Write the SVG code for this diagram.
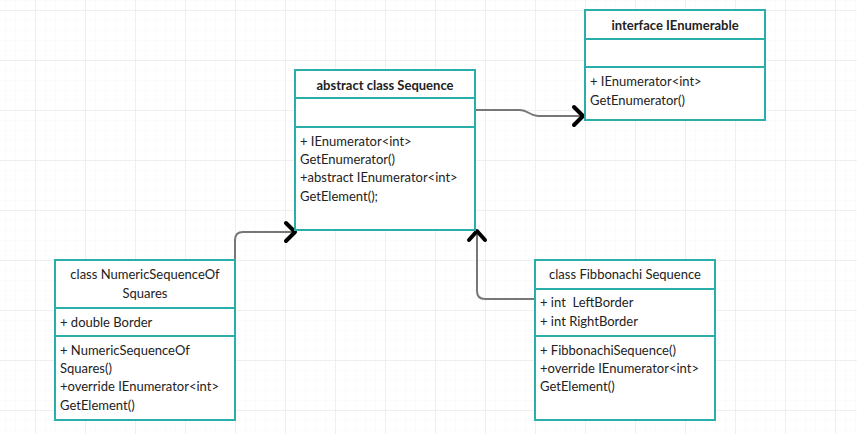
<svg xmlns="http://www.w3.org/2000/svg" width="857" height="434" viewBox="0 0 857 434">
<defs>
<pattern id="minor" width="10" height="10" patternUnits="userSpaceOnUse" x="5" y="0">
<path d="M0 0V10M0 0H10" stroke="#f7f7f7" stroke-width="1" fill="none"/>
</pattern>
<pattern id="major" width="50" height="50" patternUnits="userSpaceOnUse" x="35" y="10">
<path d="M0 0V50M0 0H50" stroke="#ececec" stroke-width="1.5" fill="none"/>
</pattern>
</defs>
<style>
.box{fill:#fff;stroke:#2aaeab;stroke-width:2}
.div{stroke:#2aaeab;stroke-width:2}
text{font-family:Lato,"Liberation Sans",sans-serif;font-size:13px;fill:#222}
.h{font-weight:bold;text-anchor:middle}
.c{text-anchor:middle}
.conn{fill:none;stroke:#777;stroke-width:2}
.arr{fill:none;stroke:#000;stroke-width:4;stroke-linecap:round;stroke-linejoin:round}
</style>
<rect width="857" height="434" fill="#fff"/>
<rect width="857" height="434" fill="url(#minor)"/>
<rect width="857" height="434" fill="url(#major)"/>

<g id="connectors">
<path class="conn" d="M475 110H520C528 110 530 116 538 116H583"/>
<path class="arr" d="M574 107L583 116L574 125"/>
<path class="conn" d="M235 260V240Q235 232 243 232H295"/>
<path class="arr" d="M286 223L295 232L286 241"/>
<path class="conn" d="M535 299H485Q477 299 477 291V231"/>
<path class="arr" d="M469 240L477 231L485 240"/>
</g>

<g id="sequence">
<rect class="box" x="295" y="70" width="180" height="160"/>
<line class="div" x1="295" y1="98" x2="475" y2="98"/>
<line class="div" x1="295" y1="127" x2="475" y2="127"/>
<text class="h" x="385" y="90">abstract class Sequence</text>
<text x="300" y="146">+ IEnumerator&lt;int&gt;</text>
<text x="300" y="164">GetEnumerator()</text>
<text x="300" y="182">+abstract IEnumerator&lt;int&gt;</text>
<text x="300" y="201">GetElement();</text>
</g>

<g id="ienumerable">
<rect class="box" x="585" y="10" width="180" height="110"/>
<line class="div" x1="585" y1="39" x2="765" y2="39"/>
<line class="div" x1="585" y1="67" x2="765" y2="67"/>
<text class="h" x="675" y="30">interface IEnumerable</text>
<text x="590" y="86">+ IEnumerator&lt;int&gt;</text>
<text x="590" y="105">GetEnumerator()</text>
</g>

<g id="numeric">
<rect class="box" x="55" y="260" width="180" height="160"/>
<line class="div" x1="55" y1="308" x2="235" y2="308"/>
<line class="div" x1="55" y1="336" x2="235" y2="336"/>
<text class="c" x="145" y="279">class NumericSequenceOf</text>
<text class="c" x="145" y="298">Squares</text>
<text x="60" y="327">+ double Border</text>
<text x="60" y="355">+ NumericSequenceOf</text>
<text x="60" y="373">Squares()</text>
<text x="60" y="391">+override IEnumerator&lt;int&gt;</text>
<text x="60" y="410">GetElement()</text>
</g>

<g id="fibbonachi">
<rect class="box" x="535" y="260" width="180" height="160"/>
<line class="div" x1="535" y1="289" x2="715" y2="289"/>
<line class="div" x1="535" y1="336" x2="715" y2="336"/>
<text class="c" x="625" y="279">class Fibbonachi Sequence</text>
<text x="540" y="307" xml:space="preserve">+ int  LeftBorder</text>
<text x="540" y="326">+ int RightBorder</text>
<text x="540" y="355">+ FibbonachiSequence()</text>
<text x="540" y="373">+override IEnumerator&lt;int&gt;</text>
<text x="540" y="391">GetElement()</text>
</g>
</svg>
